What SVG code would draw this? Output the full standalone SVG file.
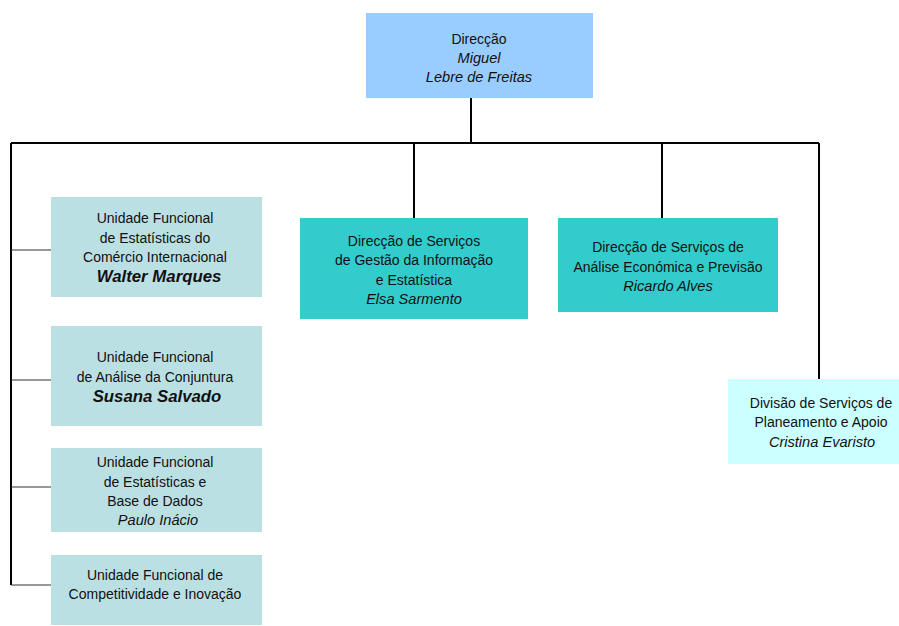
<svg xmlns="http://www.w3.org/2000/svg" width="899" height="626" viewBox="0 0 899 626">
<style>
text{font-family:"Liberation Sans",Arial,sans-serif;font-size:14px;fill:#111;text-anchor:middle}
.i{font-style:italic;font-size:14.6px}
.b{font-weight:bold;font-style:italic;font-size:16.8px}
.uf{fill:#BBE0E3}
.ds{fill:#33CCCC}
.c{stroke:#000;fill:none}
.thin{stroke:#333;stroke-width:1;fill:none}
</style>
<rect width="899" height="626" fill="#fff"/>
<g id="connectors">
<path class="c" stroke-width="2" d="M471 98V143M11 143H819M11 143V585M414 143V218M662 143V218M819 143V379"/>
<path class="thin" d="M11 250H51M11 380H51M11 487H51M11 585H51"/>
</g>
<g id="direccao">
<rect x="366" y="13" width="227" height="85" fill="#99CCFF"/>
<text x="479" y="44">Direcção</text>
<text x="479" y="63" class="i">Miguel</text>
<text x="479" y="82" class="i">Lebre de Freitas</text>
</g>
<g id="uf-comercio">
<rect class="uf" x="51" y="197" width="211" height="100"/>
<text x="155" y="223">Unidade Funcional</text>
<text x="155" y="243">de Estatísticas do</text>
<text x="155" y="262">Comércio Internacional</text>
<text x="159" y="282" class="b">Walter Marques</text>
</g>
<g id="uf-conjuntura">
<rect class="uf" x="51" y="326" width="211" height="100"/>
<text x="155" y="362">Unidade Funcional</text>
<text x="155" y="382">de Análise da Conjuntura</text>
<text x="157" y="402" class="b">Susana Salvado</text>
</g>
<g id="uf-basedados">
<rect class="uf" x="51" y="448" width="211" height="84"/>
<text x="155" y="467">Unidade Funcional</text>
<text x="155" y="487">de Estatísticas e</text>
<text x="155" y="506">Base de Dados</text>
<text x="158" y="525" class="i">Paulo Inácio</text>
</g>
<g id="uf-competitividade">
<rect class="uf" x="51" y="555" width="211" height="70"/>
<text x="155" y="580">Unidade Funcional de</text>
<text x="155" y="599">Competitividade e Inovação</text>
</g>
<g id="ds-gestao">
<rect class="ds" x="300" y="218" width="228" height="101"/>
<text x="414" y="246">Direcção de Serviços</text>
<text x="414" y="265">de Gestão da Informação</text>
<text x="414" y="285">e Estatística</text>
<text x="414" y="304" class="i">Elsa Sarmento</text>
</g>
<g id="ds-analise">
<rect class="ds" x="558" y="218" width="220" height="94"/>
<text x="668" y="252">Direcção de Serviços de</text>
<text x="668" y="272">Análise Económica e Previsão</text>
<text x="668" y="291" class="i">Ricardo Alves</text>
</g>
<g id="div-planeamento">
<rect x="728" y="379" width="171" height="85" fill="#CCFFFF"/>
<text x="821" y="408">Divisão de Serviços de</text>
<text x="821" y="427">Planeamento e Apoio</text>
<text x="822" y="447" class="i">Cristina Evaristo</text>
</g>
</svg>
